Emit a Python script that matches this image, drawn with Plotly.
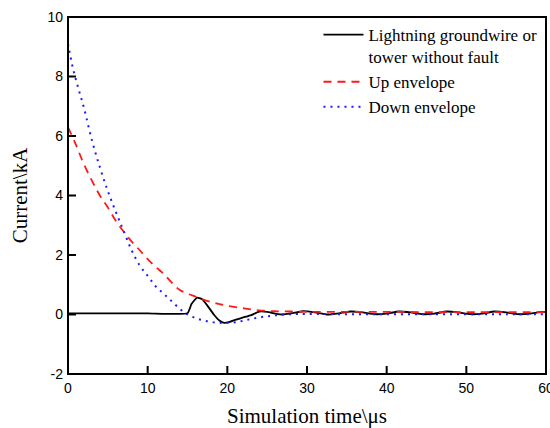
import plotly.graph_objects as go

# Black: lightning groundwire or tower without fault
t_black = [0, 5, 10, 15.0, 15.5, 16.2, 16.8, 17.5, 18.3, 19.0, 19.6, 20.3, 21, 22, 23, 24, 25, 26, 27, 28,
           29.5, 31, 32.5, 34, 35.5, 37, 38.5, 40, 41.5, 43, 44.5, 46, 47.5, 49, 50.5, 52, 53.5, 55, 56.5,
           58, 59.5, 60]
i_black = [0.04, 0.04, 0.04, 0.04, 0.35, 0.57, 0.52, 0.30, 0.0, -0.2, -0.28, -0.25, -0.18, -0.10, -0.02, 0.10,
           0.09, 0.03, 0.0, 0.04, 0.11, 0.07, 0.0, 0.04, 0.10, 0.07, 0.01, 0.03, 0.10, 0.07, 0.01, 0.03,
           0.10, 0.07, 0.01, 0.03, 0.10, 0.07, 0.01, 0.03, 0.09, 0.08]

# Red: up envelope
t_up = [0, 1, 2, 3, 4, 5, 6, 7, 8, 9, 10, 11, 12, 13, 14, 15, 16, 17, 18, 19, 20, 22, 24, 26, 28, 30,
        35, 40, 45, 50, 55, 60]
i_up = [6.3, 5.7, 5.05, 4.5, 4.0, 3.6, 3.15, 2.78, 2.45, 2.16, 1.86, 1.6, 1.37, 1.08, 0.83, 0.7, 0.6,
        0.5, 0.42, 0.35, 0.29, 0.21, 0.14, 0.11, 0.1, 0.09, 0.09, 0.09, 0.08, 0.08, 0.08, 0.08]

# Blue: down envelope
t_down = [0, 0.6, 1.3, 2, 3, 4, 5, 6, 7, 8, 9, 10, 11, 12, 13, 14, 15, 16, 17, 18, 19, 20, 21, 22, 23,
          24, 25, 26, 27, 28, 30, 35, 40, 45, 50, 55, 60]
i_down = [9.1, 8.3, 7.6, 6.95, 5.86, 4.95, 4.15, 3.45, 2.8, 2.15, 1.65, 1.3, 0.95, 0.7, 0.45, 0.2, 0.0,
          -0.12, -0.2, -0.25, -0.28, -0.28, -0.26, -0.21, -0.15, -0.1, -0.06, -0.03, 0.0, 0.01, 0.02,
          0.01, 0.01, 0.01, 0.01, 0.01, 0.01]

x_ticks = [0, 10, 20, 30, 40, 50, 60]
y_ticks = [-2, 0, 2, 4, 6, 8, 10]
x_range = [0, 60]
y_range = [-2, 10]

serif = "Liberation Serif, Times New Roman, serif"
sans = "Liberation Sans, Arial, sans-serif"

W, H = 550, 428
M = dict(l=68, r=4, t=17, b=54)
plot_w = W - M["l"] - M["r"]
plot_h = H - M["t"] - M["b"]

fig = go.Figure()
fig.add_trace(go.Scatter(x=t_black, y=i_black, mode="lines",
                         line=dict(color="black", width=1.8, shape="spline", smoothing=0.4),
                         name="Lightning groundwire or<br>tower without fault"))
fig.add_trace(go.Scatter(x=t_up, y=i_up, mode="lines",
                         line=dict(color="#ff1a1a", width=1.8, dash="8px,6px", shape="spline"),
                         name="Up envelope"))
fig.add_trace(go.Scatter(x=t_down, y=i_down, mode="lines",
                         line=dict(color="#1a1aff", width=2, dash="2px,5px", shape="spline"),
                         name="Down envelope"))

# Frame drawn as thin filled bars (2 px) on the plot-area border
fx = 1.0 / plot_w   # 1 px in paper units (x)
fy = 1.0 / plot_h   # 1 px in paper units (y)
frame_bars = [(-fx, -fy, fx, 1 + fy), (1 - fx, -fy, 1 + fx, 1 + fy),
              (-fx, -fy, 1 + fx, fy), (-fx, 1 - fy, 1 + fx, 1 + fy)]
for bx0, by0, bx1, by1 in frame_bars:
    fig.add_shape(type="rect", xref="paper", yref="paper", x0=bx0, y0=by0, x1=bx1, y1=by1,
                  fillcolor="#000000", line=dict(width=0), opacity=1, layer="above")

# Inside tick marks (8 px long, 2 px wide) at the tick values
ux = (x_range[1] - x_range[0]) / plot_w   # data units per px
uy = (y_range[1] - y_range[0]) / plot_h
for v in x_ticks[1:-1]:
    fig.add_shape(type="rect", xref="x", yref="paper", x0=v - ux, x1=v + ux, y0=0, y1=8 * fy,
                  fillcolor="#000000", line=dict(width=0), opacity=1, layer="above")
for v in y_ticks[1:-1]:
    fig.add_shape(type="rect", xref="paper", yref="y", x0=0, x1=8 * fx, y0=v - uy, y1=v + uy,
                  fillcolor="#000000", line=dict(width=0), opacity=1, layer="above")

axis_common = dict(showline=False, ticks="", showgrid=False, zeroline=False, automargin=False,
                   tickfont=dict(family=sans, size=14, color="black"))

fig.update_xaxes(range=x_range, tickvals=x_ticks, ticktext=[str(v) for v in x_ticks],
                 ticklabelstandoff=4, ticklabeloverflow="allow",
                 title=dict(text="Simulation time\\μs", font=dict(family=serif, size=21, color="black"),
                            standoff=15),
                 **axis_common)
fig.update_yaxes(range=y_range, tickvals=y_ticks, ticktext=[str(v) for v in y_ticks],
                 ticklabelstandoff=4,
                 title=dict(text="Current\\kA", font=dict(family=serif, size=21, color="black"),
                            standoff=14),
                 **axis_common)

fig.update_layout(
    width=W, height=H,
    margin=M,
    plot_bgcolor="white", paper_bgcolor="white",
    showlegend=True,
    legend=dict(x=0.524, y=1.0, xanchor="left", yanchor="top", bgcolor="rgba(0,0,0,0)",
                font=dict(family=serif, size=17, color="black"), valign="top",
                tracegroupgap=0, itemwidth=40),
)

fig.write_html("out.html", config={"staticPlot": True, "displayModeBar": False},
               post_script="document.body.style.margin='0';document.body.style.overflow='hidden';")
